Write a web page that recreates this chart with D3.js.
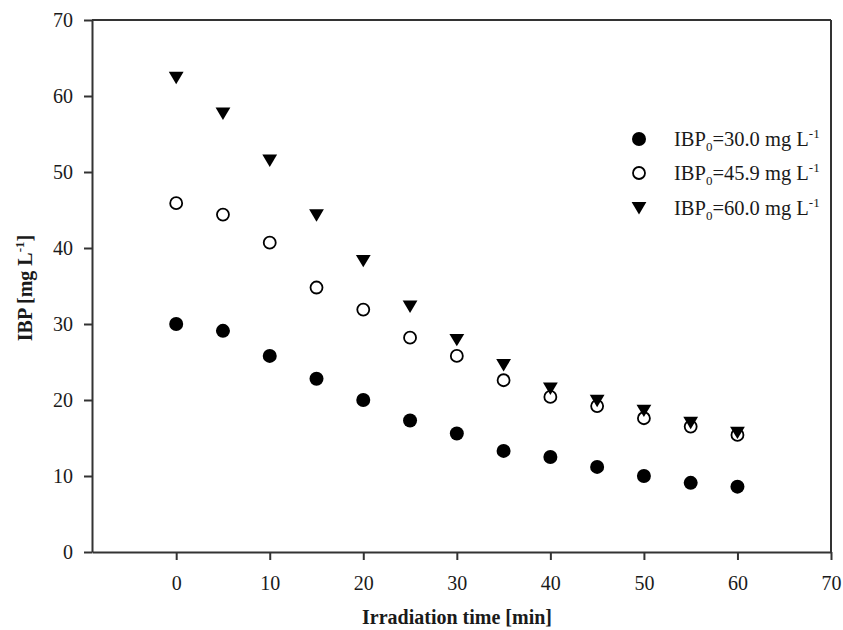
<!DOCTYPE html>
<html>
<head>
<meta charset="utf-8">
<script src="https://cdn.jsdelivr.net/npm/d3@7"></script>
<style>
  html, body { margin: 0; padding: 0; background: #fff; }
  svg { display: block; }
  text { font-family: "Liberation Serif", "Times New Roman", serif; fill: #1a1a1a; }
</style>
</head>
<body>
<svg id="chart" width="843" height="630"></svg>
<script>
// Irradiation time [min]
const times = [0, 5, 10, 15, 20, 25, 30, 35, 40, 45, 50, 55, 60];

// IBP concentration [mg L-1] for each initial concentration
const ibp30 = [30.0, 29.1, 25.8, 22.8, 20.0, 17.3, 15.6, 13.3, 12.5, 11.2, 10.0, 9.1, 8.6];
const ibp459 = [45.9, 44.4, 40.7, 34.8, 31.9, 28.2, 25.8, 22.6, 20.4, 19.2, 17.6, 16.5, 15.4];
const ibp60 = [62.4, 57.7, 51.5, 44.3, 38.3, 32.3, 27.9, 24.6, 21.5, 19.9, 18.6, 17.0, 15.7];

const seriesLabels = ["=30.0 mg L", "=45.9 mg L", "=60.0 mg L"];
const xTicks = [0, 10, 20, 30, 40, 50, 60, 70];
const yTicks = [0, 10, 20, 30, 40, 50, 60, 70];

const svg = d3.select("#chart");
const plotLeft = 92, plotRight = 831, plotTop = 20, plotBottom = 552;

const x = d3.scaleLinear().domain([-9, 70]).range([plotLeft, plotRight]);
const y = d3.scaleLinear().domain([0, 70]).range([plotBottom, plotTop]);

const axisColor = "#333";

// frame: top and right edges
svg.append("line").attr("x1", plotLeft).attr("x2", plotRight).attr("y1", plotTop).attr("y2", plotTop)
  .attr("stroke", axisColor).attr("stroke-width", 2);
svg.append("line").attr("x1", plotRight).attr("x2", plotRight).attr("y1", plotTop).attr("y2", plotBottom)
  .attr("stroke", axisColor).attr("stroke-width", 2);

const xAxis = svg.append("g")
  .attr("transform", `translate(0,${plotBottom})`)
  .call(d3.axisBottom(x).tickValues(xTicks).tickSize(8).tickSizeOuter(0).tickPadding(16));
const yAxis = svg.append("g")
  .attr("transform", `translate(${plotLeft},0)`)
  .call(d3.axisLeft(y).tickValues(yTicks).tickSize(8).tickSizeOuter(0).tickPadding(11));

[xAxis, yAxis].forEach(g => {
  g.select(".domain").attr("stroke", axisColor).attr("stroke-width", 2);
  g.selectAll(".tick line").attr("stroke", axisColor).attr("stroke-width", 2);
  g.selectAll(".tick text")
    .attr("font-family", "Liberation Serif, Times New Roman, serif")
    .attr("font-size", 20).attr("fill", "#1a1a1a");
});

// axis titles
svg.append("text")
  .attr("x", 457).attr("y", 624)
  .attr("text-anchor", "middle")
  .attr("font-size", 20).attr("font-weight", "bold")
  .text("Irradiation time [min]");

const yTitle = svg.append("text")
  .attr("transform", "translate(32,288) rotate(-90)")
  .attr("text-anchor", "middle")
  .attr("font-size", 20).attr("font-weight", "bold");
yTitle.append("tspan").text("IBP [mg L");
yTitle.append("tspan").attr("font-size", 13).attr("dy", -8).text("-1");
yTitle.append("tspan").attr("dy", 8).text("]");

// marker drawing; the triangle is centred on its bounding box
const triPath = "M-7.4,-6L7.4,-6L0,6.4Z";
function drawMarker(g, kind) {
  if (kind === 0) {
    g.append("circle").attr("r", 7).attr("fill", "#000");
  } else if (kind === 1) {
    g.append("circle").attr("r", 6).attr("fill", "none")
      .attr("stroke", "#000").attr("stroke-width", 1.8);
  } else {
    g.append("path").attr("d", triPath).attr("fill", "#000");
  }
}

const series = [ibp30, ibp459, ibp60];
// drawn from the highest series down so lower markers sit on top
[2, 1, 0].forEach(k => {
  const g = svg.append("g");
  times.forEach((t, i) => {
    const m = g.append("g").attr("transform", `translate(${x(t)},${y(series[k][i])})`);
    drawMarker(m, k);
  });
});

// legend
const legendRows = [139, 173, 208];
seriesLabels.forEach((lab, k) => {
  const m = svg.append("g").attr("transform", `translate(639,${legendRows[k]})`);
  drawMarker(m, k);
  const t = svg.append("text")
    .attr("x", 674).attr("y", legendRows[k] + 7)
    .attr("font-size", 20.5);
  t.append("tspan").text("IBP");
  t.append("tspan").attr("font-size", 13).attr("dy", 5).text("0");
  t.append("tspan").attr("dy", -5).text(lab);
  t.append("tspan").attr("font-size", 13).attr("dy", -8).text("-1");
});
</script>
</body>
</html>
